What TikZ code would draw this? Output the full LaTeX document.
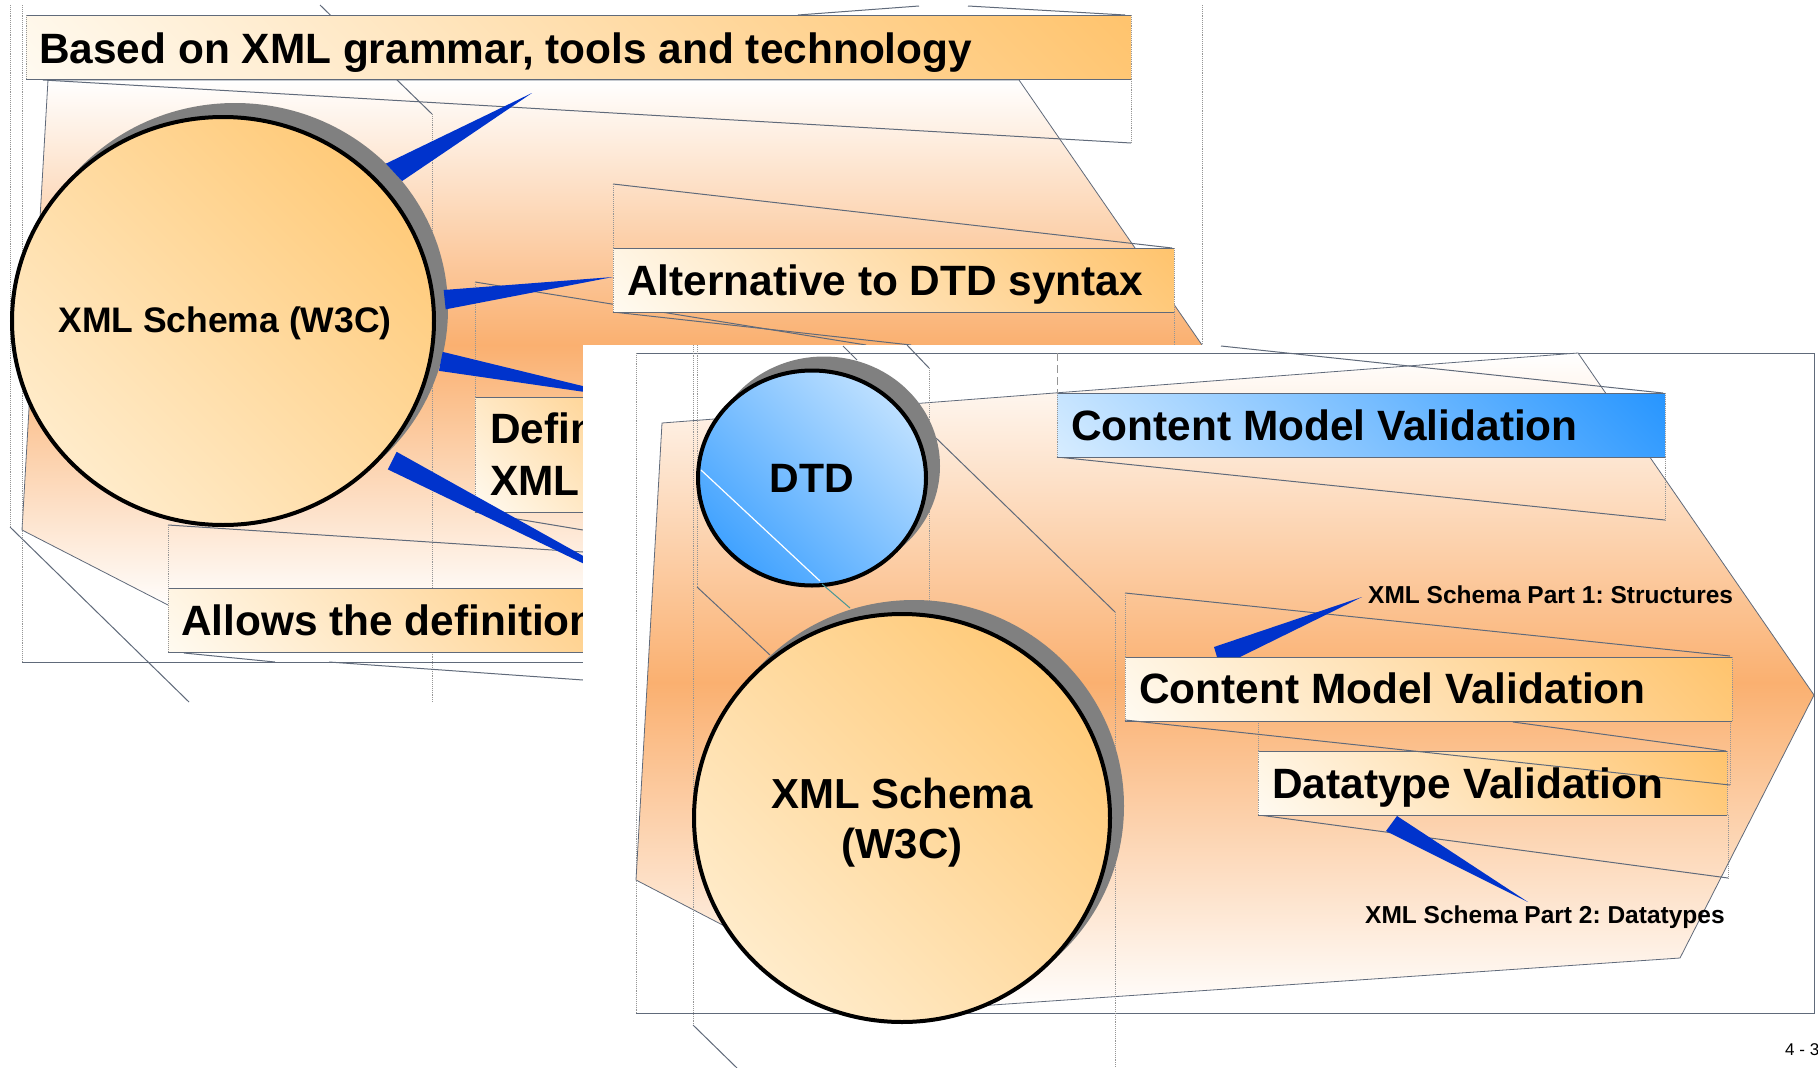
\documentclass[tikz,border=0pt]{standalone}
\usepackage{fontspec}
\setmainfont{Liberation Sans}
\usetikzlibrary{shapes.geometric,calc}
\frenchspacing
\definecolor{orng}{RGB}{250,176,112}
\definecolor{boxorng}{RGB}{255,196,110}
\definecolor{cream}{RGB}{255,250,240}
\definecolor{ballorng}{RGB}{255,196,106}
\definecolor{ballcream}{RGB}{255,242,218}
\definecolor{sky}{RGB}{214,236,255}
\definecolor{azure}{RGB}{40,150,255}
\definecolor{wedgeblue}{RGB}{0,51,204}
\definecolor{edge}{RGB}{96,106,122}
\definecolor{dotg}{RGB}{150,150,150}
\definecolor{shadowg}{RGB}{128,128,128}
\definecolor{tealline}{RGB}{70,150,150}
\pgfdeclareverticalshading{diagorange}{100bp}{color(0bp)=(cream); color(15bp)=(cream); color(85bp)=(boxorng); color(100bp)=(boxorng)}
\pgfdeclareverticalshading{diagball}{100bp}{color(0bp)=(ballcream); color(15bp)=(ballcream); color(85bp)=(ballorng); color(100bp)=(ballorng)}
\pgfdeclareverticalshading{diagdtd}{100bp}{color(0bp)=(azure); color(15bp)=(azure); color(85bp)=(sky); color(100bp)=(sky)}
\pgfdeclareverticalshading{diagblue}{100bp}{color(0bp)=(sky); color(15bp)=(sky); color(85bp)=(azure); color(100bp)=(azure)}
\tikzset{
  thinl/.style={draw=edge, line width=1pt},
  dotl/.style={draw=dotg, line width=0.9pt, densely dotted},
  dashl/.style={draw=dotg, line width=1pt, dash pattern=on 8pt off 4pt},
  tbox/.style={rectangle, inner sep=0pt, outer sep=0pt, anchor=north west, shade, shading=diagorange, shading angle=-45},
  bluebox/.style={tbox, shading=diagblue},
  ball/.style={ellipse, draw=black, line width=4pt, inner sep=0pt, shade, shading=diagball, shading angle=-45},
  dtdball/.style={ball, shading=diagdtd},
  shadowball/.style={ellipse, fill=shadowg, inner sep=0pt, draw=none},
  wedge/.style={fill=wedgeblue},
  panelfill/.style={shade, top color=white, bottom color=white, middle color=orng, draw=edge, line width=0.8pt},
  bigtext/.style={font=\fontsize{42.4}{50}\selectfont\bfseries, inner sep=0pt, anchor=base west},
  midtext/.style={font=\fontsize{42}{50}\selectfont\bfseries, inner sep=0pt, anchor=base},
  smalltext/.style={font=\fontsize{24.5}{29}\selectfont\bfseries, inner sep=0pt, anchor=base west},
}
\begin{document}
\begin{tikzpicture}[x=1pt,y=-1pt]
\useasboundingbox (0,0) rectangle (1818,1068);
\fill[white] (0,0) rectangle (1818,1068);

%% ---------------- slide 1 (behind) ----------------
\path[panelfill] (48,80) -- (1019,80) -- (1202,345) -- (1202,610) -- (168,605) -- (22,530) -- cycle;

\draw[dotl] (10,5) -- (10,527);
\draw[dotl] (22,5) -- (22,662);
\draw[thinl] (22,662) -- (583,662);
\draw[thinl] (10,527) -- (189,702);
\draw[thinl] (320,5) -- (432,114);
\draw[dotl] (432,114) -- (432,702);
\draw[thinl] (43,80) -- (1131,143);
\draw[dotl] (1131,79) -- (1131,143);
\draw[dotl] (1202,5) -- (1202,345);
\draw[thinl] (798,15) -- (919,6);
\draw[thinl] (968,6) -- (1125,15);
\draw[thinl] (613,184) -- (1172,248);
\draw[dotl] (613,184) -- (613,248);
\draw[dotl] (1174,312) -- (1174,345);
\draw[thinl] (475,282) -- (866,345);
\draw[dotl] (475,282) -- (475,397);
\draw[thinl] (613,312) -- (911,345);
\draw[thinl] (168,525) -- (583,552);
\draw[dotl] (168,525) -- (168,588);
\draw[thinl] (475,512) -- (583,530);
\draw[thinl] (184,653) -- (275,662);
\draw[thinl] (329,662) -- (583,680);

\node[tbox, minimum width=1105pt, minimum height=64pt] (bA) at (26,15) {};
\node[tbox, minimum width=561pt, minimum height=64pt] (bB) at (613,248) {};
\node[tbox, minimum width=225pt, minimum height=115pt] (bC) at (475,397) {};
\node[tbox, minimum width=532pt, minimum height=64pt] (bD) at (168,588) {};
\foreach \b in {bA,bB,bC,bD} {
  \draw[thinl] (\b.north west) -- (\b.north east);
  \draw[thinl] (\b.south west) -- (\b.south east);
  \draw[dotl] (\b.north west) -- (\b.south west);
  \draw[dotl] (\b.north east) -- (\b.south east);
}
\node[bigtext] (tA) at (39,63) {Based on XML grammar, tools and technology};
\node[bigtext] (tB) at (627,295) {Alternative to DTD syntax};
\node[bigtext] (tC1) at (490,443) {Defin};
\node[bigtext] (tC2) at (490,495) {XML};
\node[bigtext] (tD) at (181,635) {Allows the definition};

\node[shadowball, minimum width=426pt, minimum height=412pt] (s1) at (235,309) {};
\node[ball, minimum width=422pt, minimum height=408pt] (c1) at (223,321) {};
\node[font=\fontsize{35.5}{42}\selectfont\bfseries, anchor=base, inner sep=0pt] (tc1) at (225,332) {XML Schema (W3C)};

\coordinate (t1) at (532,93);
\coordinate (t3) at (640,400);
\coordinate (t4) at (680,610);
\fill[wedge] ($(c1.44)!-17pt!(c1.center)$) -- (t1) -- ($(c1.38)!-17pt!(c1.center)$) -- cycle;
\fill[wedge] ($(c1.8)!-10pt!(c1.center)$) -- ($(bB.west)+(0,-3)$) -- ($(c1.3)!-10pt!(c1.center)$) -- cycle;
\fill[wedge] ($(c1.-8)!-9pt!(c1.center)$) -- (t3) -- ($(c1.-13)!-9pt!(c1.center)$) -- cycle;
\fill[wedge] ($(c1.-37)!-7pt!(c1.center)$) -- (t4) -- ($(c1.-42)!-12pt!(c1.center)$) -- cycle;

%% ---------------- slide 2 (front) ----------------
\fill[white] (583,345) rectangle (1818,1068);
\draw[thinl] (636,353) -- (1814,353) -- (1814,1013) -- (636,1013);
\draw[dotl] (636,353) -- (636,1013);
\path[panelfill] (662,423) -- (1578,353) -- (1814,695) -- (1680,958) -- (890,1012) -- (636,880) -- cycle;

\draw[dotl] (693,345) -- (693,1025);
\draw[thinl] (693,1025) -- (737,1068);
\draw[dotl] (697,345) -- (697,587);
\draw[thinl] (697,587) -- (770,655);
\draw[thinl] (843,346) -- (857,360);
\draw[thinl] (907,345) -- (929,368);
\draw[dotl] (929,368) -- (929,600);
\draw[thinl] (936,438) -- (1115,612);
\draw[dotl] (1115,612) -- (1115,1068);
\draw[thinl] (1221,346) -- (1663,393);
\draw[dashl] (1057,353) -- (1057,393);
\draw[thinl] (1057,457) -- (1665,520);
\draw[dotl] (1665,457) -- (1665,520);
\draw[thinl] (1125,593) -- (1730,656);
\draw[dotl] (1125,593) -- (1125,657);
\draw[dotl] (1730,721) -- (1730,785);
\draw[dotl] (1258,721) -- (1258,751);
\draw[thinl] (1259,815) -- (1728,878);
\draw[dotl] (1728,815) -- (1728,878);

\node[bluebox, minimum width=608pt, minimum height=64pt] (bE) at (1057,393) {};
\node[tbox, minimum width=607pt, minimum height=64pt] (bF) at (1125,657) {};
\node[tbox, minimum width=469pt, minimum height=64pt] (bG) at (1258,751) {};
\foreach \b in {bE,bF,bG} {
  \draw[thinl] (\b.north west) -- (\b.north east);
  \draw[thinl] (\b.south west) -- (\b.south east);
  \draw[dotl] (\b.north west) -- (\b.south west);
  \draw[dotl] (\b.north east) -- (\b.south east);
}
\draw[thinl] (1125,720) -- (1730,785);
\draw[thinl] (1513,722) -- (1726,751);

\node[bigtext] (tE) at (1071,440) {Content Model Validation};
\node[bigtext] (tF) at (1139,703) {Content Model Validation};
\node[bigtext] (tG) at (1272,798) {Datatype Validation};
\node[smalltext] (l1) at (1368,603) {XML Schema Part 1: Structures};
\node[smalltext] (l2) at (1365,923) {XML Schema Part 2: Datatypes};

\fill[wedge] ($(bF.north west)+(89,-10)$) -- ($(l1.base west)+(-6,-6)$) -- ($(bF.north west)+(115,0)$) -- ($(bF.north west)+(92,0)$) -- cycle;
\fill[wedge] ($(bG.south west)+(139,1)$) -- ($(l2.base west)+(163,-21)$) -- ($(bG.south west)+(128,16)$) -- cycle;

\node[shadowball, minimum width=232pt, minimum height=219pt] (s2) at (824,466) {};
\node[dtdball, minimum width=228pt, minimum height=215pt] (dtd) at (812,478) {};
\node[font=\fontsize{41}{48}\selectfont\bfseries, anchor=base, inner sep=0pt] (tdtd) at (812,492) {DTD};
\draw[white, line width=1.2pt] (701,470) -- (820,581);
\draw[tealline, line width=1pt] (822,584) -- (850,608);

\node[shadowball, minimum width=420pt, minimum height=412pt] (s3) at (914,806) {};
\node[ball, minimum width=416pt, minimum height=408pt] (c2) at (902,818) {};
\node[midtext] (tc2a) at (902,808) {XML Schema};
\node[midtext] (tc2b) at (902,858) {(W3C)};

\node[font=\fontsize{17}{20}\selectfont, anchor=base west, inner sep=0pt] (pg) at (1785,1055) {4 - 3};
\end{tikzpicture}
\end{document}
